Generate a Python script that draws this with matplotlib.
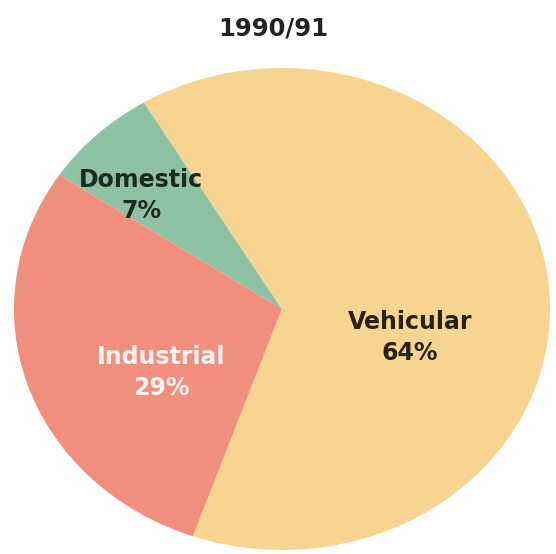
import matplotlib
matplotlib.use("Agg")
import matplotlib.pyplot as plt

title = "1990/91"
categories = ["Domestic", "Industrial", "Vehicular"]
shares = [7, 29, 64]
colors = ["#8DC2A2", "#F18F7E", "#F8D491"]

W, H = 556, 554
fig = plt.figure(figsize=(W / 100, H / 100), dpi=100)
ax = fig.add_axes([0, 0, 1, 1])
ax.pie(shares, colors=colors, startangle=121, counterclock=True,
       wedgeprops=dict(linewidth=0))
ax.set_aspect("auto")
cx, cy, rx, ry = 282, 309, 268, 241
ax.set_xlim((0 - cx) / rx, (W - cx) / rx)
ax.set_ylim((cy - H) / ry, cy / ry)
ax.axis("off")

def put(px, py, s, color, size):
    fig.text(px / W, 1 - py / H, s, ha="center", va="center",
             fontsize=size, fontweight="bold", color=color,
             family="DejaVu Sans")

put(273, 28, title, "#222222", 17.5)

label_pos = {"Domestic": (141, 180), "Industrial": (161, 357), "Vehicular": (410, 322)}
label_col = {"Domestic": "#1c2a22", "Industrial": "#FFF4EE", "Vehicular": "#2a2118"}
for cat, val in zip(categories, shares):
    x, y = label_pos[cat]
    put(x, y, cat, label_col[cat], 17)
    put(x, y + 31, f"{val}%", label_col[cat], 17)

fig.savefig("out.png", dpi=100)
